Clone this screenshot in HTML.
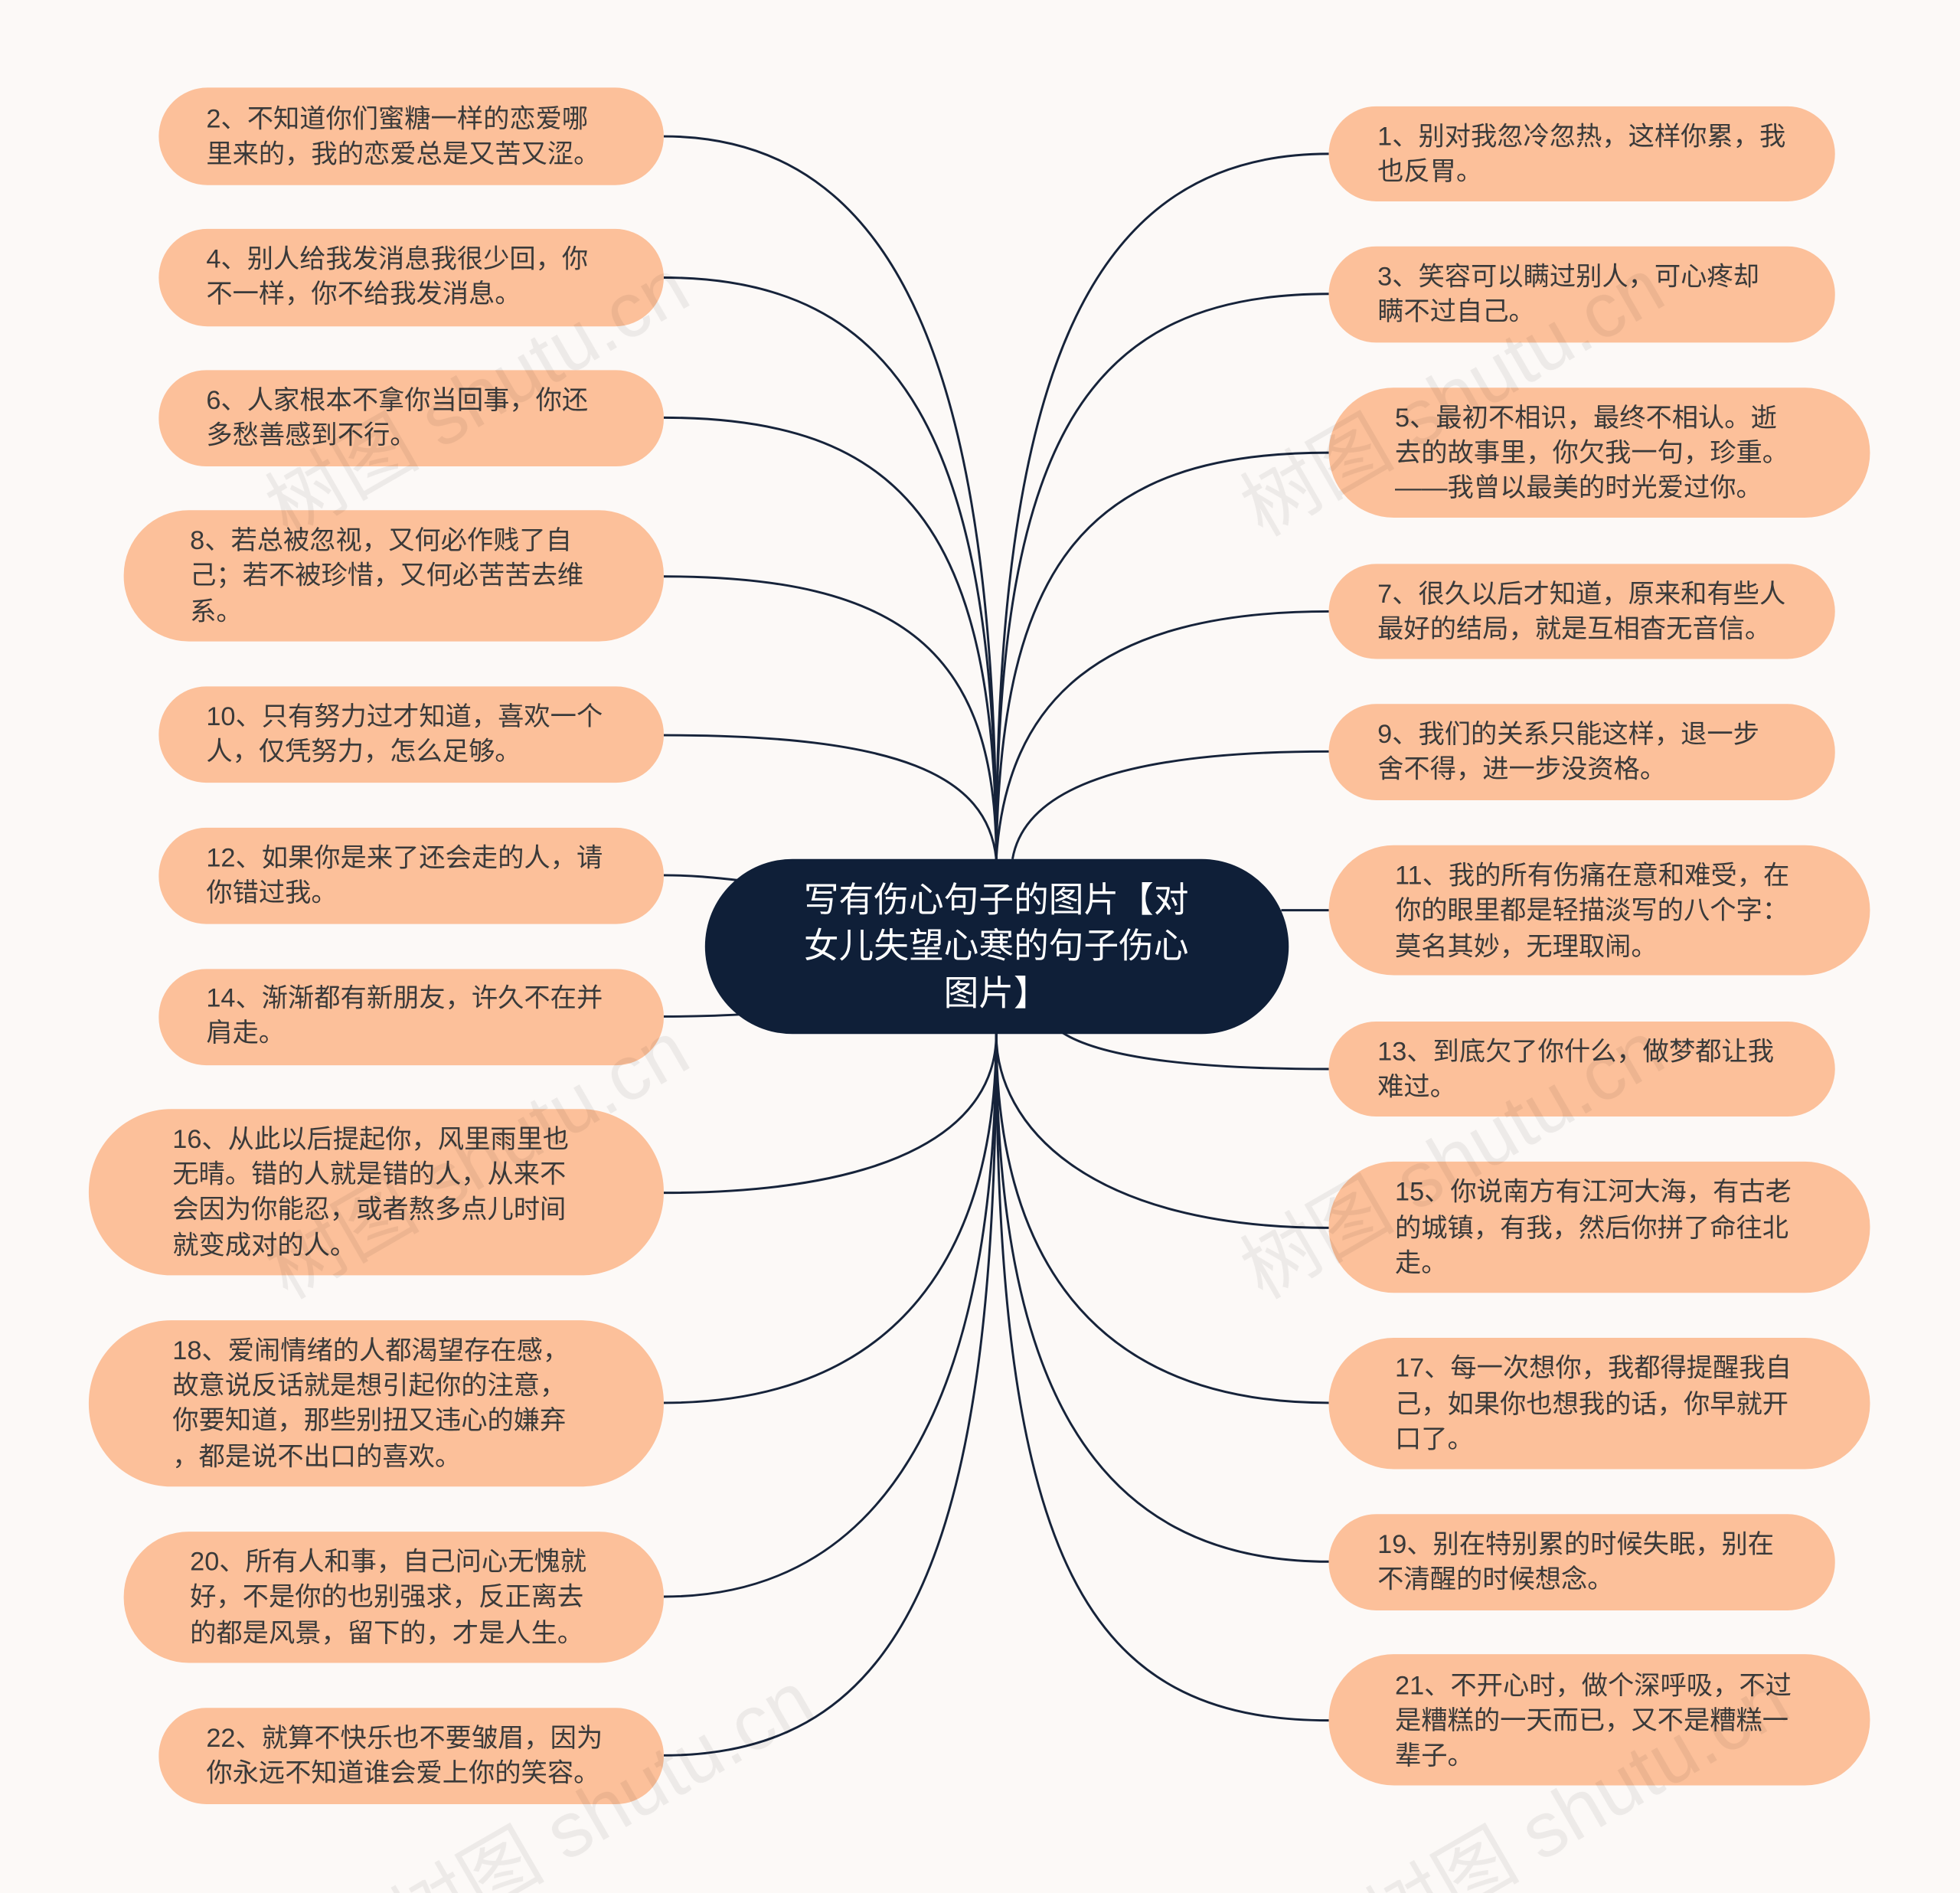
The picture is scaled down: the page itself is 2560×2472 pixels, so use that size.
<!DOCTYPE html>
<html><head><meta charset="utf-8">
<style>
html,body{margin:0;padding:0;background:#fcf9f7;}
svg{display:block;}
text{font-family:"Liberation Sans","Noto Sans CJK SC",sans-serif;}
.n{font-size:21px;fill:#3a3a3a;}
.c{font-size:28px;fill:#ffffff;}
.w{font-size:62px;fill:#000;opacity:0.06;font-family:"Liberation Serif","Noto Serif CJK SC",serif;}
</style></head><body>
<svg width="2560" height="2472" viewBox="0 0 1568 1514" xmlns="http://www.w3.org/2000/svg">
<rect width="1568" height="1514" fill="#fcf9f7"/>
<g fill="none" stroke="#16233a" stroke-width="1.8">
<path d="M531 109 C720 109 797 300 797 687"/>
<path d="M531 222 C720 222 797 350 797 687"/>
<path d="M531 334 C720 334 797 420 797 687"/>
<path d="M531 461 C720 461 797 520 797 687"/>
<path d="M531 588 C720 588 790 620 797 687"/>
<path d="M531 700 C560 700 580 703 600 705"/>
<path d="M531 813 C560 813 580 812 600 811"/>
<path d="M531 954 C720 954 797 900 797 827"/>
<path d="M531 1122 C720 1122 797 1000 797 827"/>
<path d="M531 1277 C720 1277 797 1100 797 827"/>
<path d="M531 1404 C720 1404 797 1250 797 827"/>
<path d="M1063 123 C870 123 797 300 797 687"/>
<path d="M1063 235 C870 235 797 350 797 687"/>
<path d="M1063 362 C870 362 800 450 797 687"/>
<path d="M1063 489 C880 489 805 560 797 687"/>
<path d="M1063 601 C900 601 820 630 810 687"/>
<path d="M1063 728 C1050 728 1040 728 1025 728"/>
<path d="M1063 855 C950 855 880 845 850 826"/>
<path d="M1063 982 C870 982 797 900 797 827"/>
<path d="M1063 1122 C870 1122 797 1000 797 827"/>
<path d="M1063 1249 C870 1249 797 1100 797 827"/>
<path d="M1063 1376 C870 1376 797 1250 797 827"/>
</g>
<g fill="#fcc09a">
<rect x="127" y="70" width="404" height="78" rx="39"/>
<rect x="127" y="183" width="404" height="78" rx="39"/>
<rect x="127" y="296" width="404" height="77" rx="38"/>
<rect x="99" y="408" width="432" height="105" rx="52"/>
<rect x="127" y="549" width="404" height="77" rx="38"/>
<rect x="127" y="662" width="404" height="77" rx="38"/>
<rect x="127" y="775" width="404" height="77" rx="38"/>
<rect x="71" y="887" width="460" height="133" rx="66"/>
<rect x="71" y="1056" width="460" height="133" rx="66"/>
<rect x="99" y="1225" width="432" height="105" rx="52"/>
<rect x="127" y="1366" width="404" height="77" rx="38"/>
<rect x="1063" y="85" width="405" height="76" rx="38"/>
<rect x="1063" y="197" width="405" height="77" rx="38"/>
<rect x="1063" y="310" width="433" height="104" rx="52"/>
<rect x="1063" y="451" width="405" height="76" rx="38"/>
<rect x="1063" y="563" width="405" height="77" rx="38"/>
<rect x="1063" y="676" width="433" height="104" rx="52"/>
<rect x="1063" y="817" width="405" height="76" rx="38"/>
<rect x="1063" y="929" width="433" height="105" rx="52"/>
<rect x="1063" y="1070" width="433" height="105" rx="52"/>
<rect x="1063" y="1211" width="405" height="77" rx="38"/>
<rect x="1063" y="1323" width="433" height="105" rx="52"/>
</g>
<rect x="564" y="687" width="467" height="140" rx="70" fill="#0f1f38"/>
<g class="c" text-anchor="middle">
<text x="797" y="729">写有伤心句子的图片【对</text>
<text x="797" y="766">女儿失望心寒的句子伤心</text>
<text x="797" y="804">图片】</text>
</g>
<g class="n">
<text x="165" y="102">2、不知道你们蜜糖一样的恋爱哪</text><text x="165" y="130">里来的，我的恋爱总是又苦又涩。</text>
<text x="165" y="214">4、别人给我发消息我很少回，你</text><text x="165" y="242">不一样，你不给我发消息。</text>
<text x="165" y="327">6、人家根本不拿你当回事，你还</text><text x="165" y="355">多愁善感到不行。</text>
<text x="152" y="439">8、若总被忽视，又何必作贱了自</text><text x="152" y="467">己；若不被珍惜，又何必苦苦去维</text><text x="152" y="496">系。</text>
<text x="165" y="580">10、只有努力过才知道，喜欢一个</text><text x="165" y="608">人，仅凭努力，怎么足够。</text>
<text x="165" y="693">12、如果你是来了还会走的人，请</text><text x="165" y="721">你错过我。</text>
<text x="165" y="805">14、渐渐都有新朋友，许久不在并</text><text x="165" y="833">肩走。</text>
<text x="138" y="918">16、从此以后提起你，风里雨里也</text><text x="138" y="946">无晴。错的人就是错的人，从来不</text><text x="138" y="974">会因为你能忍，或者熬多点儿时间</text><text x="138" y="1003">就变成对的人。</text>
<text x="138" y="1087">18、爱闹情绪的人都渴望存在感，</text><text x="138" y="1115">故意说反话就是想引起你的注意，</text><text x="138" y="1143">你要知道，那些别扭又违心的嫌弃</text><text x="138" y="1172">，都是说不出口的喜欢。</text>
<text x="152" y="1256">20、所有人和事，自己问心无愧就</text><text x="152" y="1284">好，不是你的也别强求，反正离去</text><text x="152" y="1313">的都是风景，留下的，才是人生。</text>
<text x="165" y="1397">22、就算不快乐也不要皱眉，因为</text><text x="165" y="1425">你永远不知道谁会爱上你的笑容。</text>
<text x="1102" y="116">1、别对我忽冷忽热，这样你累，我</text><text x="1102" y="144">也反胃。</text>
<text x="1102" y="228">3、笑容可以瞒过别人，可心疼却</text><text x="1102" y="256">瞒不过自己。</text>
<text x="1116" y="341">5、最初不相识，最终不相认。逝</text><text x="1116" y="369">去的故事里，你欠我一句，珍重。</text><text x="1116" y="397">——我曾以最美的时光爱过你。</text>
<text x="1102" y="482">7、很久以后才知道，原来和有些人</text><text x="1102" y="510">最好的结局，就是互相杳无音信。</text>
<text x="1102" y="594">9、我们的关系只能这样，退一步</text><text x="1102" y="622">舍不得，进一步没资格。</text>
<text x="1116" y="707">11、我的所有伤痛在意和难受，在</text><text x="1116" y="735">你的眼里都是轻描淡写的八个字：</text><text x="1116" y="764">莫名其妙，无理取闹。</text>
<text x="1102" y="848">13、到底欠了你什么，做梦都让我</text><text x="1102" y="876">难过。</text>
<text x="1116" y="960">15、你说南方有江河大海，有古老</text><text x="1116" y="989">的城镇，有我，然后你拼了命往北</text><text x="1116" y="1017">走。</text>
<text x="1116" y="1101">17、每一次想你，我都得提醒我自</text><text x="1116" y="1130">己，如果你也想我的话，你早就开</text><text x="1116" y="1158">口了。</text>
<text x="1102" y="1242">19、别在特别累的时候失眠，别在</text><text x="1102" y="1270">不清醒的时候想念。</text>
<text x="1116" y="1355">21、不开心时，做个深呼吸，不过</text><text x="1116" y="1383">是糟糕的一天而已，又不是糟糕一</text><text x="1116" y="1411">辈子。</text>
</g>
<g class="w">
<text transform="translate(230,430) rotate(-30)">树图 shutu.cn</text>
<text transform="translate(1010,430) rotate(-30)">树图 shutu.cn</text>
<text transform="translate(230,1040) rotate(-30)">树图 shutu.cn</text>
<text transform="translate(1010,1040) rotate(-30)">树图 shutu.cn</text>
<text transform="translate(330,1560) rotate(-30)">树图 shutu.cn</text>
<text transform="translate(1110,1560) rotate(-30)">树图 shutu.cn</text>
</g>
</svg>
</body></html>
